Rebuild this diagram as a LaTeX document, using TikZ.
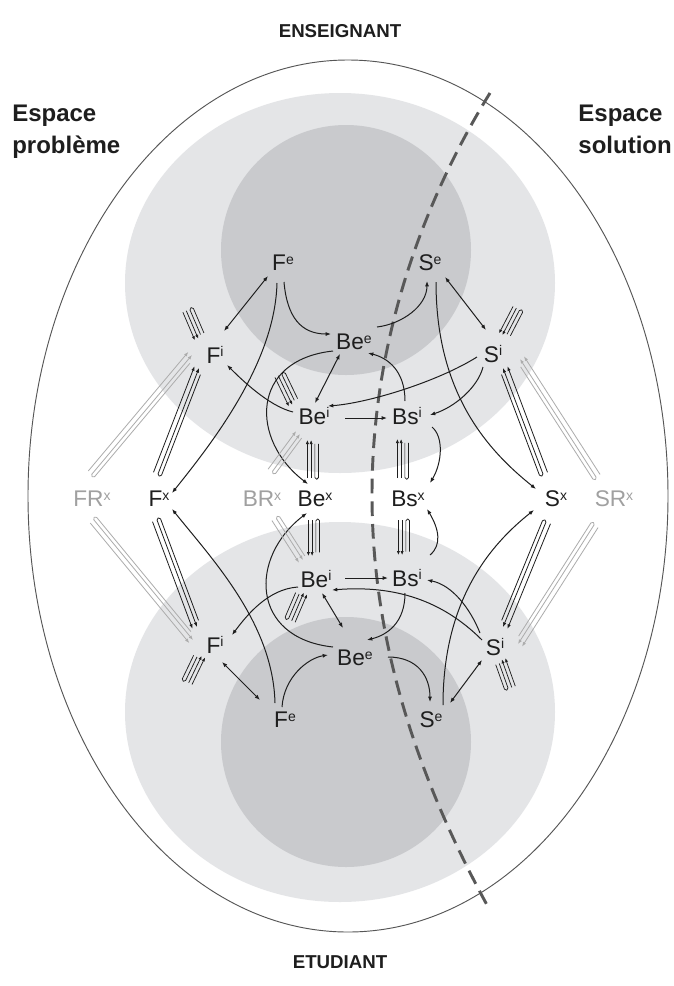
\documentclass[tikz,border=0pt]{standalone}
\usepackage{fontspec}
\setmainfont{Liberation Sans}
\usetikzlibrary{calc,arrows.meta}
\definecolor{lightc}{RGB}{228,229,231}
\definecolor{darkc}{RGB}{201,202,205}
\definecolor{dashc}{RGB}{88,88,88}
\definecolor{grayt}{RGB}{160,160,160}
\definecolor{graya}{RGB}{172,172,172}
\definecolor{ink}{RGB}{30,30,30}
\newcommand\sps[1]{\raisebox{5pt}{\fontsize{10.5}{10.5}\selectfont #1}}
\tikzset{
  lbl/.style={font=\fontsize{17}{18}\selectfont, text=ink, inner sep=1pt},
  glbl/.style={lbl, text=grayt},
  ttl/.style={font=\bfseries\fontsize{14}{24}\selectfont, text=ink},
  side/.style={font=\bfseries\fontsize{18}{24}\selectfont, text=ink, align=left, inner sep=0pt},
  con/.style={draw=ink, line width=0.75pt},
  arr/.style={con, -{Latex[length=4pt,width=3pt]}},
  darr/.style={con, {Latex[length=4pt,width=3pt]}-{Latex[length=4pt,width=3pt]}},
  harr/.style={draw=ink, line width=0.55pt, -{Latex[length=3pt,width=2.4pt]}},
  hline/.style={draw=ink, line width=0.55pt},
  ellc/.style={draw=ink!75, line width=0.7pt},
  dashl/.style={draw=dashc, line width=2.2pt, dash pattern=on 11pt off 6pt},
}
% hairpin symbol: #1 tail, #2 head, #3 loop side angle, #4 arrow side angle
\newcommand\hpin[4]{%
  \draw[harr] ($(#1)!1.4pt!#4:(#2)$) -- ($(#2)!1.4pt!#3:(#1)$);
  \draw[harr] ($(#1)!4.2pt!#4:(#2)$) -- ($(#2)!4.2pt!#3:(#1)$);
  \draw[hline, rounded corners=1.3pt] ($(#1)!0.9!(#2)!1.4pt!#3:(#2)$) -- ($(#1)!-0.03!(#2)!1.4pt!#3:(#2)$) -- ($(#1)!-0.03!(#2)!4.2pt!#3:(#2)$) -- ($(#1)!0.9!(#2)!4.2pt!#3:(#2)$);
}
% triple symbol: #1 tail, #2 head, #3 single-line side, #4 hairpin side, #5 colour
\newcommand\trip[5]{%
  \draw[line width=0.6pt, draw=#5, -{Latex[length=3.4pt,width=2.6pt]}] ($(#1)!3.6pt!#3:(#2)$) -- ($(#2)!3.6pt!#4:(#1)$);
  \draw[line width=0.6pt, draw=#5, rounded corners=1.2pt, -{Latex[length=3.4pt,width=2.6pt]}] ($(#1)!0.95!(#2)!2.8pt!#4:(#2)$) -- ($(#1)!-0.012!(#2)!2.8pt!#4:(#2)$) -- ($(#1)!-0.012!(#2)$) -- (#2);
}
\begin{document}
\begin{tikzpicture}[x=0.75pt,y=-0.75pt]
\useasboundingbox (0,0) rectangle (674,986);
\fill[white] (0,0) rectangle (674,986);
% background
\draw[ellc] (348,496) ellipse[x radius=320,y radius=436];
\fill[lightc] (340,283) ellipse[x radius=215,y radius=190];
\fill[lightc] (340,712) ellipse[x radius=215,y radius=190];
\fill[darkc] (346,250) circle[radius=125];
\fill[darkc] (346,742) circle[radius=125];
\draw[dashl] (490,93) .. controls (430,190) and (372,330) .. (372,495) .. controls (372,660) and (430,800) .. (487,905);
% titles
\node[ttl] (ens) at (340,31) {ENSEIGNANT};
\node[ttl] (etu) at (340,962) {ETUDIANT};
\node[side, anchor=north west] (ep) at (12,105) {Espace\\problème};
\node[side, anchor=north east] (es) at (672,105) {Espace\\solution};
% nodes top
\node[lbl] (Fe1) at (283,263) {F\sps{e}};
\node[lbl] (Se1) at (430,263) {S\sps{e}};
\node[lbl] (Bee1) at (354,342) {Be\sps{e}};
\node[lbl] (Fi1) at (215,355) {F\sps{i}};
\node[lbl] (Si1) at (493,354) {S\sps{i}};
\node[lbl] (Bei1) at (314,416) {Be\sps{i}};
\node[lbl] (Bsi1) at (407,416) {Bs\sps{i}};
% middle
\node[glbl] (FRx) at (92,499) {FR\sps{x}};
\node[lbl] (Fx) at (159,499) {F\sps{x}};
\node[glbl] (BRx) at (262,499) {BR\sps{x}};
\node[lbl] (Bex) at (315,499) {Be\sps{x}};
\node[lbl] (Bsx) at (408,499) {Bs\sps{x}};
\node[lbl] (Sx) at (556,499) {S\sps{x}};
\node[glbl] (SRx) at (614,499) {SR\sps{x}};
% bottom
\node[lbl] (Bei2) at (316,579) {Be\sps{i}};
\node[lbl] (Bsi2) at (407,578) {Bs\sps{i}};
\node[lbl] (Fi2) at (215,645) {F\sps{i}};
\node[lbl] (Bee2) at (355,658) {Be\sps{e}};
\node[lbl] (Fe2) at (285,720) {F\sps{e}};
\node[lbl] (Se2) at (431,720) {S\sps{e}};
\node[lbl] (Si2) at (495,647) {S\sps{i}};
% ---------- top connectors
\draw[darr] ($(Fi1)+(9,-24)$) -- ($(Fe1)+(-15,13)$);
\draw[arr] ($(Fe1)+(1,19)$) .. controls +(3,35) and +(-30,0) .. ($(Bee1)+(-23,-8)$);
\draw[arr] ($(Bee1)+(23,-15)$) .. controls +(25,-3) and +(0,25) .. ($(Se1)+(-3,18)$);
\draw[darr] ($(Se1)+(15,14)$) -- ($(Si1)+(-7,-24)$);
\draw[darr] ($(Bee1)+(-14,12)$) -- ($(Bei1)+(1,-13)$);
\draw[arr] ($(Bei1)+(-21,-4)$) .. controls +(-25,-6) and +(12,12) .. ($(Fi1)+(12,10)$);
\draw[arr] ($(Bsi1)+(-2,-15)$) .. controls +(0,-30) and +(20,5) .. ($(Bee1)+(14,11)$);
\draw[arr] ($(Bei1)+(31,2)$) -- ($(Bsi1)+(-20,2)$);
\draw[arr] ($(Si1)+(-16,3)$) .. controls +(-40,25) and +(40,-3) .. ($(Bei1)+(14,-10)$);
\draw[arr] ($(Si1)+(-10,13)$) .. controls +(-5,20) and +(25,-8) .. ($(Bsi1)+(23,-1)$);
\draw[arr] ($(Se1)+(6,19)$) .. controls +(0,110) and +(-50,-40) .. ($(Sx)+(-20,-10)$);
\draw[arr] ($(Fe1)+(-6,20)$) .. controls +(-2,80) and +(40,-50) .. ($(Fx)+(13,-6)$);
\draw[arr] ($(Bee1)+(-21,9)$) .. controls +(-83,9) and +(-58,-44) .. ($(Bex)+(-7,-15)$);
\draw[arr] ($(Bsi1)+(25,11)$) .. controls +(12,10) and +(12,-20) .. ($(Bsx)+(22,-16)$);
% ---------- bottom connectors
\draw[darr] ($(Fi2)+(7,17)$) -- ($(Fe2)+(-25,-20)$);
\draw[arr] ($(Fe2)+(-3,-13)$) .. controls +(2,-30) and +(-20,3) .. ($(Bee2)+(-27,-3)$);
\draw[arr] ($(Bee2)+(33,-1)$) .. controls +(30,0) and +(0,-25) .. ($(Se2)+(-1,-18)$);
\draw[darr] ($(Se2)+(19,-17)$) -- ($(Si2)+(-13,13)$);
\draw[darr] ($(Bei2)+(6,14)$) -- ($(Bee2)+(-12,-30)$);
\draw[arr] ($(Bei2)+(-18,8)$) .. controls +(-30,2) and +(15,-20) .. ($(Fi2)+(17,-10)$);
\draw[arr] ($(Bsi2)+(-2,15)$) .. controls +(0,30) and +(20,-5) .. ($(Bee2)+(12,-18)$);
\draw[arr] ($(Bei2)+(29,-1)$) -- ($(Bsi2)+(-19,0)$);
\draw[arr] ($(Si2)+(-13,-7)$) .. controls +(-40,-40) and +(62,-5) .. ($(Bei2)+(16,11)$);
\draw[arr] ($(Si2)+(-15,-14)$) .. controls +(-10,-25) and +(25,5) .. ($(Bsi2)+(20,2)$);
\draw[arr] ($(Se2)+(12,-15)$) .. controls +(0,-105) and +(-44,35) .. ($(Sx)+(-22,11)$);
\draw[arr] ($(Fe2)+(-10,-17)$) .. controls +(-2,-80) and +(40,50) .. ($(Fx)+(13,10)$);
\draw[arr] ($(Bee2)+(-22,-11)$) .. controls +(-83,-9) and +(-58,44) .. ($(Bex)+(-8,14)$);
\draw[arr] ($(Bsi2)+(23,-23)$) .. controls +(12,-10) and +(12,20) .. ($(Bsx)+(19,10)$);
% ---------- hairpin symbols
\coordinate (a1) at ($(Bex)+(-2,-21)$); \coordinate (b1) at ($(Bei1)+(-1,24)$);
\hpin{a1}{b1}{-90}{90}
\coordinate (a2) at ($(Bex)+(-1,21)$); \coordinate (b2) at ($(Bei2)+(-2,-23)$);
\hpin{a2}{b2}{90}{-90}
\coordinate (a3) at ($(Bsx)+(-5,-21)$); \coordinate (b3) at ($(Bsi1)+(-4,23)$);
\hpin{a3}{b3}{-90}{90}
\coordinate (a4) at ($(Bsx)+(-4,21)$); \coordinate (b4) at ($(Bsi2)+(-3,-23)$);
\hpin{a4}{b4}{90}{-90}
\coordinate (a5) at ($(Fi1)+(-27,-45)$); \coordinate (b5) at ($(Fi1)+(-15,-17)$);
\hpin{a5}{b5}{90}{-90}
\coordinate (a6) at ($(Bei1)+(-34,-41)$); \coordinate (b6) at ($(Bei1)+(-20,-12)$);
\hpin{a6}{b6}{90}{-90}
\coordinate (a7) at ($(Si1)+(25,-45)$); \coordinate (b7) at ($(Si1)+(11,-18)$);
\hpin{a7}{b7}{90}{-90}
\coordinate (a8) at ($(Fi2)+(-28,37)$); \coordinate (b8) at ($(Fi2)+(-15,10)$);
\hpin{a8}{b8}{90}{-90}
\coordinate (a9) at ($(Bei2)+(-26,41)$); \coordinate (b9) at ($(Bei2)+(-14,13)$);
\hpin{a9}{b9}{90}{-90}
\coordinate (a10) at ($(Si2)+(15,41)$); \coordinate (b10) at ($(Si2)+(5,13)$);
\hpin{a10}{b10}{90}{-90}
% ---------- triple symbols
\coordinate (t1a) at ($(Fx)+(-1,-25)$); \coordinate (t1b) at ($(Fi1)+(-16,13)$);
\trip{t1a}{t1b}{90}{-90}{ink}
\coordinate (t2a) at ($(Fx)+(-2,21)$); \coordinate (t2b) at ($(Fi2)+(-18,-18)$);
\trip{t2a}{t2b}{-90}{90}{ink}
\coordinate (t3a) at ($(FRx)+(0,-25)$); \coordinate (t3b) at ($(Fi1)+(-23,0)$);
\trip{t3a}{t3b}{90}{-90}{graya}
\coordinate (t4a) at ($(FRx)+(2,21)$); \coordinate (t4b) at ($(Fi2)+(-22,-5)$);
\trip{t4a}{t4b}{-90}{90}{graya}
\coordinate (t5a) at ($(Sx)+(-13,-25)$); \coordinate (t5b) at ($(Si1)+(10,14)$);
\trip{t5a}{t5b}{-90}{90}{ink}
\coordinate (t6a) at ($(Sx)+(-10,23)$); \coordinate (t6b) at ($(Si2)+(8,-20)$);
\trip{t6a}{t6b}{90}{-90}{ink}
\coordinate (t7a) at ($(SRx)+(-18,-22)$); \coordinate (t7b) at ($(Si1)+(27,5)$);
\trip{t7a}{t7b}{-90}{90}{graya}
\coordinate (t8a) at ($(SRx)+(-20,26)$); \coordinate (t8b) at ($(Si2)+(23,-3)$);
\trip{t8a}{t8b}{90}{-90}{graya}
\coordinate (t9a) at ($(BRx)+(10,-27)$); \coordinate (t9b) at ($(Bei1)+(-14,18)$);
\trip{t9a}{t9b}{90}{-90}{graya}
\coordinate (t10a) at ($(BRx)+(14,19)$); \coordinate (t10b) at ($(Bei2)+(-13,-19)$);
\trip{t10a}{t10b}{-90}{90}{graya}
\end{tikzpicture}
\end{document}
